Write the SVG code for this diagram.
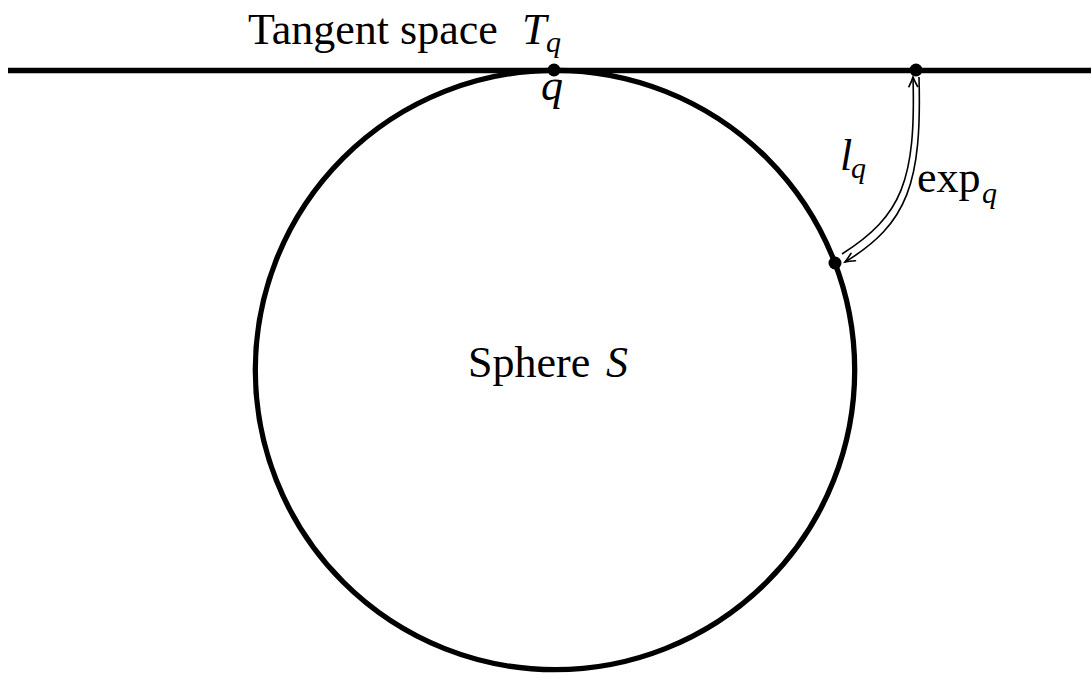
<svg xmlns="http://www.w3.org/2000/svg" width="1091" height="673" viewBox="0 0 1091 673">
<style>
.thick{fill:none;stroke:#000;stroke-width:5.3}
.thin{fill:none;stroke:#000;stroke-width:1.6}
.dot{fill:#000}
text{font-family:"Liberation Serif","DejaVu Serif",serif;fill:#000}
.m{font-size:44px}
.i{font-style:italic}
.s{font-size:30px;font-style:italic}
</style>
<defs>
<marker id="ah" markerUnits="userSpaceOnUse" markerWidth="14" markerHeight="12" viewBox="-9 -5 11 10" refX="0" refY="0" orient="auto">
<path d="M -8,-3.6 Q -3,-1 0,0 Q -3,1 -8,3.6" fill="none" stroke="#000" stroke-width="1.4" stroke-linecap="round"/>
</marker>
</defs>
<rect width="1091" height="673" fill="#fff"/>
<g id="tangent-space">
<line class="thick" x1="8" y1="70.5" x2="1091" y2="70.5"/>
<text class="m" x="248" y="44">Tangent space</text>
<text class="m i" x="522" y="44">T</text>
<text class="s" x="546" y="52">q</text>
</g>
<g id="sphere">
<circle class="thick" cx="555" cy="370" r="299.7"/>
<text class="m" x="468" y="377">Sphere</text>
<text class="m i" x="606" y="377">S</text>
</g>
<g id="point-q">
<circle class="dot" cx="554" cy="70" r="6.5"/>
<text class="m i" x="541" y="100">q</text>
</g>
<g id="point-tangent">
<circle class="dot" cx="916" cy="70" r="6.5"/>
</g>
<g id="point-sphere">
<circle class="dot" cx="835" cy="263" r="6.5"/>
</g>
<g id="connectors">
<path class="thin" d="M 842,254 C 902,216 916,180 913,77" marker-end="url(#ah)"/>
<path class="thin" d="M 919,77 C 922,182 908,224 845,262" marker-end="url(#ah)"/>
</g>
<g id="labels">
<text class="m i" x="840" y="170">l</text>
<text class="s" x="851" y="178">q</text>
<text class="m" x="917" y="192">exp</text>
<text class="s" x="982" y="203">q</text>
</g>
</svg>
